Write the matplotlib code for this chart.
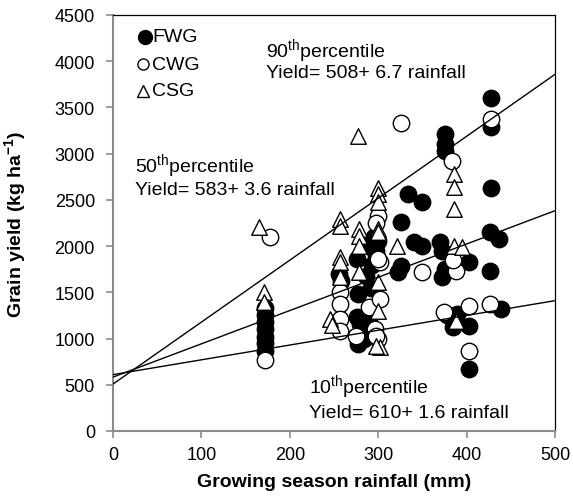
import matplotlib
matplotlib.use("Agg")
import matplotlib.pyplot as plt
import numpy as np

plt.rcParams['font.family'] = ['Liberation Sans', 'DejaVu Sans']
plt.rcParams['mathtext.fontset'] = 'custom'
plt.rcParams['mathtext.rm'] = 'Liberation Sans'
plt.rcParams['mathtext.bf'] = 'Liberation Sans:bold'

# ---- data ----
fwg_rain = [172, 172, 172, 172, 172, 172, 172,
            256, 258,
            276, 277, 276, 279, 277, 277,
            288, 286, 290, 290, 284, 295, 298, 293, 300, 297, 292,
            322, 326, 334, 349, 340, 349, 326,
            376, 376, 376, 370, 372, 372, 376, 378, 385,
            403, 403, 403, 389,
            428, 428, 428, 427, 437, 426, 439]
fwg_yield = [1330, 1260, 1180, 1100, 1020, 950, 870,
             1700, 1620,
             1860, 1480, 1230, 1160, 1000, 940,
             2003, 1680, 1200, 1140, 995, 2100, 1950, 1800, 2050, 1900, 1550,
             1716, 2256, 2560, 2480, 2040, 2000, 1780,
             3211, 3103, 3030, 2040, 1950, 1662, 1750, 1250, 1121,
             1824, 1138, 670, 1265,
             3600, 3286, 2634, 2148, 2076, 1733, 1319]

cwg_rain = [178, 172,
            257, 257, 257, 257,
            275, 290, 302, 296, 300, 298, 302, 300, 300, 297,
            326, 349, 374, 384, 388, 385, 403, 403, 426, 428]
cwg_yield = [2097, 770,
             1500, 1373, 1211, 1084,
             1030, 1337, 1427, 1103, 995, 1030, 1824, 2328, 1860, 2250,
             3330, 1716, 1283, 2922, 1733, 1850, 1354, 868, 1373, 3370]

csg_rain = [165, 171, 171,
            246, 248, 257, 257, 257, 257, 257,
            277, 278, 278, 278, 278,
            300, 300, 300, 300, 300, 300, 300, 302, 298,
            321, 386, 386, 386, 386, 395, 388]
csg_yield = [2205, 1500, 1400,
             1211, 1150, 2292, 2219, 1878, 1824, 1662,
             3192, 2184, 2111, 2003, 1716,
             2634, 2560, 2472, 2184, 2148, 1608, 1300, 905, 922,
             2003, 2778, 2638, 2400, 2003, 1986, 1192]

# percentile regression lines: (intercept, slope)
lines_int = [508, 583, 610]
lines_slope = [6.7, 3.6, 1.6]
line_x = [0, 500]

xticks = [0, 100, 200, 300, 400, 500]
yticks = [0, 500, 1000, 1500, 2000, 2500, 3000, 3500, 4000, 4500]

# ---- figure ----
fig = plt.figure(figsize=(5.73, 5.02), dpi=100)
L, R, T, B = 113, 555, 16, 432
ax = fig.add_axes([L/573, 1-B/502, (R-L)/573, (B-T)/502])

ax.scatter(fwg_rain, fwg_yield, s=140, marker='o', facecolor='black',
           edgecolor='black', linewidth=1.0, zorder=3)
ax.scatter(cwg_rain, cwg_yield, s=140, marker='o', facecolor='white',
           edgecolor='black', linewidth=1.0, zorder=4)
ax.scatter(csg_rain, csg_yield, s=125, marker='^', facecolor='white',
           edgecolor='black', linewidth=1.0, zorder=5)

for b0, b1 in zip(lines_int, lines_slope):
    xs = np.array(line_x, dtype=float)
    ax.plot(xs, b0 + b1*xs, color='black', linewidth=1.0, zorder=6)

ax.set_xlim(0, 500)
ax.set_ylim(0, 4500)
ax.set_xticks(xticks)
ax.set_yticks(yticks)
ax.tick_params(axis='both', direction='out', length=5, width=1.2,
               color='#8c8c8c', labelsize=13)
ax.tick_params(axis='y', pad=8)
ax.tick_params(axis='x', pad=6)

for s in ['left', 'bottom']:
    ax.spines[s].set_color('#8c8c8c')
    ax.spines[s].set_linewidth(1.5)
for s in ['top', 'right']:
    ax.spines[s].set_color('black')
    ax.spines[s].set_linewidth(0.9)

ax.set_xlabel('Growing season rainfall (mm)', fontsize=14, fontweight='bold')
ax.set_ylabel(r'Grain yield (kg ha$^{\mathbf{-1}}$)', fontsize=14, fontweight='bold')
ax.xaxis.set_label_coords(0.5, (B-474)/(B-T))
ax.yaxis.set_label_coords((29-L)/(R-L), 0.5)

# annotations
fs = 14
ax.text(173, 4115, r'90$^{\mathrm{th}}$percentile', fontsize=fs, va='center')
ax.text(173, 3880, 'Yield= 508+ 6.7 rainfall', fontsize=fs, va='center')
ax.text(25, 2868, r'50$^{\mathrm{th}}$percentile', fontsize=fs, va='center')
ax.text(25, 2616, 'Yield= 583+ 3.6 rainfall', fontsize=fs, va='center')
ax.text(222, 476, r'10$^{\mathrm{th}}$percentile', fontsize=fs, va='center')
ax.text(222, 205, 'Yield= 610+ 1.6 rainfall', fontsize=fs, va='center')

# legend (manual)
leg_y = [(B-38)/(B-T), (B-65)/(B-T), (B-92)/(B-T)]
ax.plot([(145-L)/(R-L)], [leg_y[0]], transform=ax.transAxes, marker='o', ms=10,
        mfc='black', mec='black', clip_on=False)
ax.plot([(143-L)/(R-L)], [leg_y[1]], transform=ax.transAxes, marker='o', ms=8,
        mfc='white', mec='black', mew=1.0, clip_on=False)
ax.plot([(143-L)/(R-L)], [leg_y[2]], transform=ax.transAxes, marker='^', ms=8,
        mfc='white', mec='black', mew=1.0, clip_on=False)
for yy, lab in zip(leg_y, ['FWG', 'CWG', 'CSG']):
    ax.text((152-L)/(R-L), yy, lab, transform=ax.transAxes, fontsize=14, va='center')

fig.savefig('out.png', dpi=100)
